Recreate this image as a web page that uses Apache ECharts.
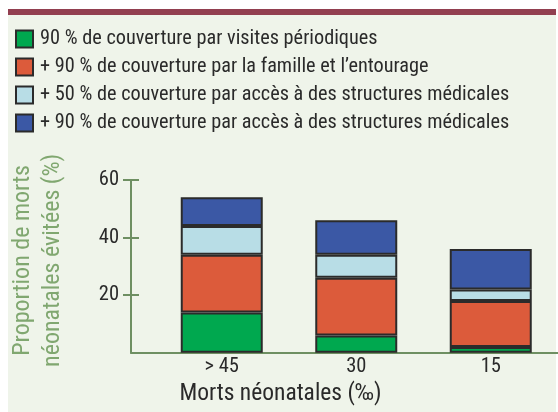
<!DOCTYPE html>
<html><head><meta charset="utf-8">
<script src="https://cdn.jsdelivr.net/npm/echarts@6/dist/echarts.min.js"></script>
</head>
<body style="margin:0;background:#fff">
<div id="main" style="width:558px;height:412px"></div>
<script>
const categories = ['> 45', '30', '15'];
const seriesNames = [
  '90 % de couverture par visites périodiques',
  '+ 90 % de couverture par la famille et l\u2019entourage',
  '+ 50 % de couverture par accès à des structures médicales',
  '+ 90 % de couverture par accès à des structures médicales'
];
const visites = [14, 6, 2];
const famille = [20, 20, 16];
const structures50 = [10, 8, 4];
const structures90 = [10, 12, 14];
const yTicks = [20, 40, 60];
const xTitle = 'Morts néonatales (‰)';
const yTitle = 'Proportion de morts\nnéonatales évitées (%)';

const colors = ['#00a84f', '#dc5b3b', '#b8dde6', '#3b58a5'];
const FONT = '"Roboto Condensed", "DejaVu Sans Condensed", sans-serif';
const values = [visites, famille, structures50, structures90];
const AXIS_COLOR = '#6e8f62';
const TEXT = '#2a2a2a';

const chart = echarts.init(document.getElementById('main'), null, {renderer: 'canvas'});
chart.setOption({
  backgroundColor: '#ffffff',
  animation: false,
  graphic: [
    {type: 'rect', shape: {x: 8, y: 14, width: 548, height: 398}, style: {fill: '#eff4ea'}, z: -10, silent: true},
    {type: 'rect', shape: {x: 8, y: 9, width: 548, height: 6}, style: {fill: '#923f50'}, z: -9, silent: true}
  ],
  legend: {
    orient: 'vertical',
    left: 10, top: 24,
    itemWidth: 17, itemHeight: 17,
    itemGap: 8,
    icon: 'rect',
    selectedMode: false,
    textStyle: {fontFamily: FONT, fontSize: 20.3, color: TEXT, lineHeight: 20, padding: [0, 0, 0, 2]},
    data: seriesNames
  },
  grid: [
    {left: 154.5, right: -1.5, top: 180, bottom: 59.3, containLabel: false},
    {left: 127.5, right: 0, top: 180, bottom: 59.3, containLabel: false}
  ],
  xAxis: [{
    type: 'category', gridIndex: 0,
    data: categories,
    axisLine: {show: false},
    axisTick: {show: false},
    axisLabel: {fontFamily: FONT, fontSize: 20.5, color: TEXT, margin: 4}
  }, {
    type: 'value', gridIndex: 1, min: 0, max: 1,
    splitLine: {show: false},
    axisLine: {show: true, onZero: false, lineStyle: {color: AXIS_COLOR, width: 2}},
    axisTick: {show: false},
    axisLabel: {show: false},
    name: xTitle,
    nameLocation: 'middle',
    nameGap: 29,
    nameTextStyle: {fontFamily: FONT, fontSize: 23.5, color: TEXT, padding: [0, 128, 0, 0]}
  }],
  yAxis: [{
    type: 'value', gridIndex: 0, min: 0, max: 60, interval: 20,
    show: false
  }, {
    type: 'value', gridIndex: 1, position: 'left', min: 0, max: 60, interval: 20,
    splitLine: {show: false},
    axisLine: {show: true, onZero: false, lineStyle: {color: AXIS_COLOR, width: 2}},
    axisTick: {show: true, customValues: yTicks, length: 8, lineStyle: {color: AXIS_COLOR, width: 2}},
    axisLabel: {customValues: yTicks, fontFamily: FONT, fontSize: 20.5, color: TEXT, margin: 12},
    name: yTitle,
    nameLocation: 'middle',
    nameGap: 63,
    nameTextStyle: {fontFamily: FONT, fontSize: 24, color: '#80a770', lineHeight: 30, padding: [0, 0, 0, 12]}
  }, {
    type: 'value', gridIndex: 1, position: 'left', offset: 0, min: 0, max: 60, interval: 20,
    splitLine: {show: false},
    axisLine: {show: false, onZero: false},
    axisTick: {show: true, inside: true, customValues: yTicks, length: 8, lineStyle: {color: AXIS_COLOR, width: 2}},
    axisLabel: {show: false}
  }],
  series: values.map((d, i) => ({
    name: seriesNames[i],
    type: 'bar',
    stack: 'total',
    xAxisIndex: 0, yAxisIndex: 0,
    barWidth: 82,
    data: d,
    itemStyle: {color: colors[i], borderColor: '#2b2b2b', borderWidth: 2}
  }))
});
</script></body></html>
